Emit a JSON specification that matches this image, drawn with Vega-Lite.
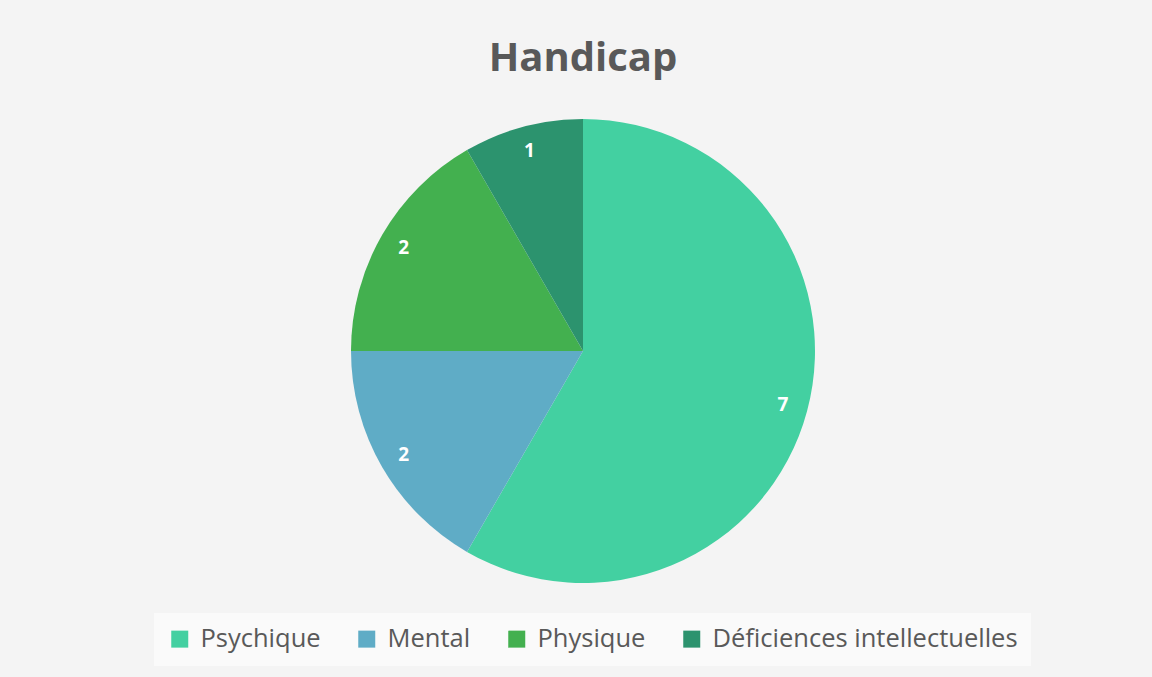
{
  "$schema": "https://vega.github.io/schema/vega-lite/v6.json",
  "autosize": {"type": "none"},
  "width": 1138,
  "height": 654,
  "padding": {"left": 14, "top": 24, "right": 0, "bottom": 0},
  "background": "#f4f4f4",
  "config": {
    "view": {"stroke": null},
    "font": "Open Sans"
  },
  "title": {
    "text": "Handicap",
    "font": "Open Sans",
    "fontSize": 40,
    "fontWeight": "bold",
    "color": "#595959",
    "anchor": "middle",
    "offset": -55
  },
  "data": {
    "values": [
      {"cat": "Psychique", "n": 7, "o": 1},
      {"cat": "Mental", "n": 2, "o": 2},
      {"cat": "Physique", "n": 2, "o": 3},
      {"cat": "Déficiences intellectuelles", "n": 1, "o": 4}
    ]
  },
  "encoding": {
    "theta": {"field": "n", "type": "quantitative", "stack": true},
    "order": {"field": "o", "type": "quantitative"}
  },
  "layer": [
    {
      "mark": {"type": "arc", "outerRadius": 232},
      "encoding": {
        "color": {
          "field": "cat",
          "type": "nominal",
          "sort": ["Psychique", "Mental", "Physique", "Déficiences intellectuelles"],
          "scale": {
            "domain": ["Psychique", "Mental", "Physique", "Déficiences intellectuelles"],
            "range": ["#43d0a1", "#5facc6", "#43b04f", "#2c936e"]
          },
          "legend": {
            "title": null,
            "orient": "none",
            "direction": "horizontal",
            "legendX": 140,
            "legendY": 589,
            "padding": 13,
            "fillColor": "#fafafa",
            "symbolType": "square",
            "symbolSize": 289,
            "symbolStrokeWidth": 0,
            "labelFont": "Open Sans",
            "labelFontSize": 25.5,
            "labelColor": "#595959",
            "labelOffset": 8,
            "columnPadding": 33,
            "labelLimit": 400
          }
        }
      }
    },
    {
      "mark": {"type": "text", "radius": 207, "font": "Open Sans", "fontSize": 19, "fontWeight": "bold", "color": "white"},
      "encoding": {
        "text": {"field": "n", "type": "quantitative"}
      }
    }
  ]
}
